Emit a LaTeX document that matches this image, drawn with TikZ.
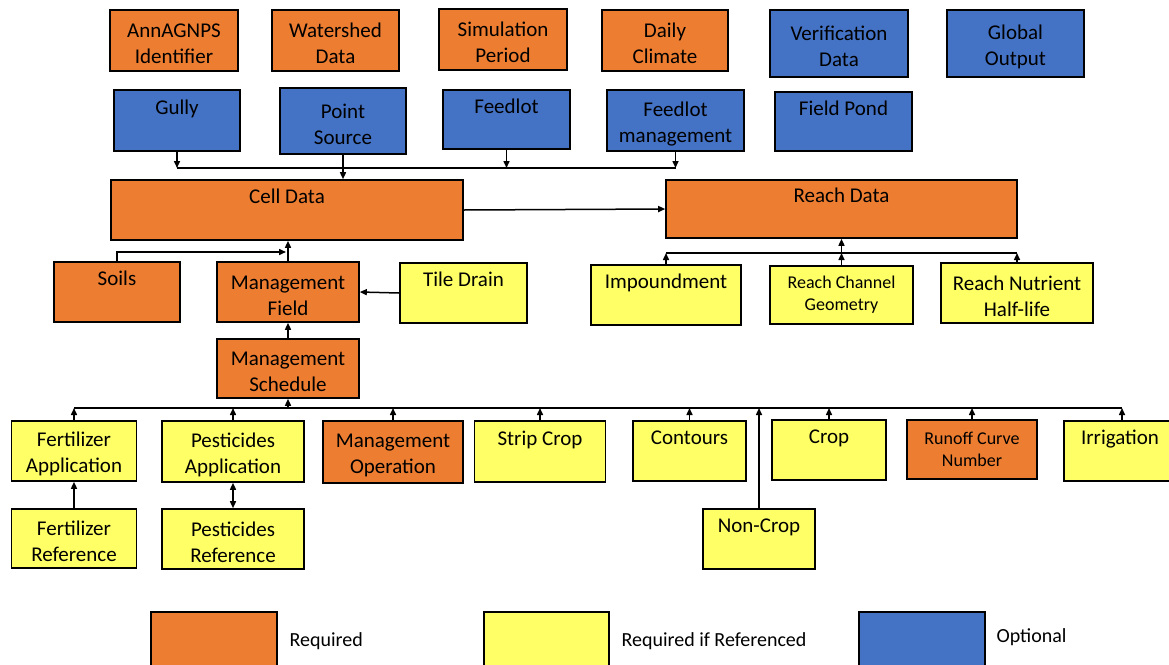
\documentclass[tikz,border=0pt]{standalone}
\usepackage{fontspec}
\setmainfont{Carlito}
\usetikzlibrary{arrows.meta}
\definecolor{reqorange}{HTML}{ED7D31}
\definecolor{refyellow}{HTML}{FFFF66}
\definecolor{optblue}{HTML}{4472C4}
\def\liftht{47pt}
\tikzset{
  blk/.style={draw=black, line width=1.6pt, align=center, inner sep=0pt,
    font=\fontsize{21}{26}\selectfont,
    execute at begin node={\rule{0pt}{\liftht}}},
  small/.style={font=\fontsize{18}{22}\selectfont, /utils/exec={\def\liftht{0pt}}},
  req/.style={blk, fill=reqorange},
  ref/.style={blk, fill=refyellow},
  opt/.style={blk, fill=optblue},
  sz/.style 2 args={minimum width=#1pt, minimum height=#2pt},
  link/.style={line width=1.5pt, -{Triangle[length=7pt,width=6pt]}},
  bus/.style={line width=1.5pt},
  legtext/.style={anchor=west, font=\fontsize{20}{24}\selectfont}
}
\begin{document}
\begin{tikzpicture}[x=1pt,y=-1pt]
\useasboundingbox (0,0) rectangle (1169,664);
\clip (0,0) rectangle (1169,664);

% Premiere ligne
\node[req,sz={128}{61}] (annag) at (174,40.5) {AnnAGNPS\\Identifier};
\node[req,sz={127}{61}] (wshed) at (335.5,40.5) {Watershed\\Data};
\node[req,sz={128}{61}] (simper) at (503,39.5) {Simulation\\Period};
\node[req,sz={126}{61}] (climate) at (665,40.5) {Daily\\Climate};
\node[opt,sz={138}{67}] (verif) at (839,43.5) {Verification\\Data};
\node[opt,sz={137}{67}] (globout) at (1015.5,43.5) {Global\\Output};

% Seconde ligne
\node[opt,sz={126}{61}] (gully) at (177,120.5) {Gully\\\strut};
\node[opt,sz={126}{66}] (psrc) at (343,121) {Point\\Source};
\node[opt,sz={127}{59}] (feedlot) at (506.5,119.5) {Feedlot\\\strut};
\node[opt,sz={137}{61}] (fdmgmt) at (675.5,120.5) {Feedlot\\management};
\node[opt,sz={137}{59}] (fpond) at (843.5,121.5) {Field Pond\\\strut};

% Cellule et bief
\node[req,sz={352}{60}] (celldata) at (287,210) {Cell Data\\\strut};
\node[req,sz={351}{58}] (reachdata) at (841.5,209) {Reach Data\\\strut};

\node[req,sz={126}{60}] (soils) at (117,292) {Soils\\\strut};
\node[req,sz={142}{60}] (mfield) at (288,292) {Management\\Field};
\node[ref,sz={127}{60}] (tdrain) at (463.5,293) {Tile Drain\\\strut};
\node[req,sz={142}{59}] (msched) at (288,368.5) {Management\\Schedule};

\node[ref,sz={150}{60}] (impound) at (666,295) {Impoundment\\\strut};
\node[ref,small,sz={143}{58}] (rcgeo) at (841.5,295) {Reach Channel\\Geometry};
\node[ref,sz={152}{60}] (rnhalf) at (1017,293) {Reach Nutrient\\Half-life};

% Gestion
\node[ref,sz={125}{60}] (fertapp) at (74,451) {Fertilizer\\Application};
\node[ref,sz={142}{61}] (pestapp) at (233,451.5) {Pesticides\\Application};
\node[req,sz={140}{62}] (mgmtop) at (393,452) {Management\\Operation};
\node[ref,sz={131}{61}] (stripcrop) at (540,451.5) {Strip Crop\\\strut};
\node[ref,sz={113}{60}] (contours) at (689.5,451) {Contours\\\strut};
\node[ref,sz={114}{60}] (crop) at (829,450) {Crop\\\strut};
\node[req,small,sz={130}{59}] (rcn) at (972,449.5) {Runoff Curve\\Number};
\node[ref,sz={112}{60}] (irrig) at (1120,451) {Irrigation\\\strut};

\node[ref,sz={125}{59}] (fertref) at (74,538.5) {Fertilizer\\Reference};
\node[ref,sz={142}{60}] (pestref) at (233,539) {Pesticides\\Reference};
\node[ref,sz={112}{60}] (noncrop) at (759,539) {Non-Crop\\\strut};

% Legende
\node[req,sz={126}{56}] (lreq) at (214,640) {};
\node[ref,sz={125}{56}] (lref) at (546.5,640) {};
\node[opt,sz={126}{56}] (lopt) at (922,640) {};
\node[legtext] (treq) at (286,641) {Required};
\node[legtext] (tref) at (618,641) {Required if Referenced};
\node[legtext] (topt) at (993,637) {Optional};

% Bus
\coordinate (topbus) at (0,168);
\coordinate (soilbus) at (0,252);
\coordinate (reachbus) at (0,253);
\coordinate (mgmtbus) at (0,408);

% Arretes du haut
\draw[bus] (gully.south |- topbus) -- (fdmgmt.south |- topbus);
\draw[link] (gully.south) -- (gully.south |- topbus);
\draw[link] (psrc.south) -- (psrc.south |- celldata.north);
\draw[link] (feedlot.south) -- (feedlot.south |- topbus);
\draw[link] (fdmgmt.south) -- (fdmgmt.south |- topbus);
\draw[link] (celldata.east) -- (reachdata.west);

% Cellule
\draw[link] (soils.north) |- ([xshift=-2pt]mfield.north |- soilbus);
\draw[link] (mfield.north) -- (celldata.south -| mfield.north);
\draw[link] (tdrain.west) -- (mfield.east);
\draw[link] (msched.north) -- (mfield.south);

% Bief
\draw[bus] (impound.north |- reachbus) -- (rnhalf.north |- reachbus);
\draw[link] (impound.north) -- (impound.north |- reachbus);
\draw[link] (rcgeo.north) -- (rcgeo.north |- reachbus);
\draw[link] (rcgeo.north |- reachbus) -- (reachdata.south -| rcgeo.north);
\draw[link] (rnhalf.north) -- (rnhalf.north |- reachbus);

% Gestion
\draw[bus] (fertapp.north |- mgmtbus) -- ([xshift=2pt]irrig.north |- mgmtbus);
\draw[link] (msched.south |- mgmtbus) -- (msched.south);
\foreach \n in {fertapp,pestapp,mgmtop,stripcrop,contours,crop,rcn}
  \draw[link] (\n.north) -- (\n.north |- mgmtbus);
\draw[link] ([xshift=2pt]irrig.north) -- ([xshift=2pt]irrig.north |- mgmtbus);
\draw[link] (noncrop.north) -- (noncrop.north |- mgmtbus);
\draw[link] (fertref.north) -- (fertapp.south);
\draw[line width=1.5pt, {Triangle[length=7pt,width=6pt]}-{Triangle[length=7pt,width=6pt]}] (pestref.north) -- (pestapp.south);

\end{tikzpicture}
\end{document}
